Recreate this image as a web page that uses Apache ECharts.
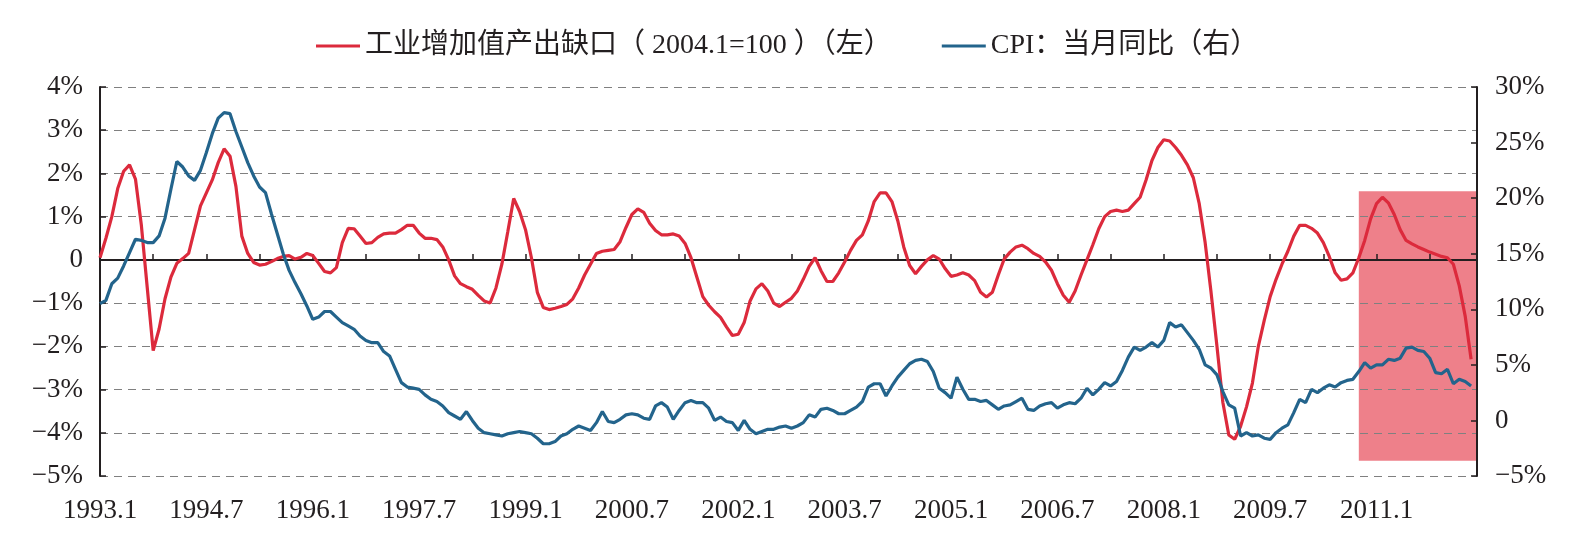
<!DOCTYPE html>
<html>
<head>
<meta charset="utf-8">
<script src="https://cdn.jsdelivr.net/npm/echarts@6/dist/echarts.min.js"></script>
<style>
  html, body { margin: 0; padding: 0; background: #fff; }
  #chart { width: 1586px; height: 548px; }
</style>
</head>
<body>
<div id="chart"></div>
<script>
// output gap, % (left axis), one array per year, Jan..Dec
const gap1993 = [0.05, 0.5, 1.0, 1.65, 2.05, 2.2, 1.87, 0.8, -0.65, -2.1, -1.6, -0.9];
const gap1994 = [-0.4, -0.08, 0.03, 0.15, 0.7, 1.25, 1.55, 1.85, 2.25, 2.57, 2.4, 1.7];
const gap1995 = [0.55, 0.15, -0.06, -0.12, -0.1, -0.04, 0.03, 0.08, 0.1, 0.02, 0.06, 0.15];
const gap1996 = [0.1, -0.08, -0.27, -0.3, -0.18, 0.4, 0.73, 0.72, 0.55, 0.38, 0.4, 0.52];
const gap1997 = [0.6, 0.62, 0.62, 0.7, 0.8, 0.8, 0.62, 0.5, 0.5, 0.47, 0.3, 0.0];
const gap1998 = [-0.37, -0.55, -0.62, -0.68, -0.82, -0.95, -1.0, -0.65, -0.1, 0.65, 1.42, 1.12];
const gap1999 = [0.7, 0.05, -0.75, -1.1, -1.15, -1.12, -1.08, -1.03, -0.9, -0.65, -0.35, -0.1];
const gap2000 = [0.15, 0.2, 0.22, 0.24, 0.42, 0.75, 1.05, 1.18, 1.1, 0.85, 0.68, 0.58];
const gap2001 = [0.58, 0.6, 0.55, 0.38, 0.05, -0.4, -0.85, -1.05, -1.2, -1.33, -1.55, -1.75];
const gap2002 = [-1.72, -1.45, -0.95, -0.67, -0.55, -0.72, -1.0, -1.08, -0.98, -0.89, -0.72, -0.45];
const gap2003 = [-0.15, 0.05, -0.25, -0.5, -0.5, -0.3, -0.05, 0.22, 0.45, 0.58, 0.9, 1.35];
const gap2004 = [1.55, 1.55, 1.35, 0.9, 0.3, -0.13, -0.32, -0.15, 0.0, 0.1, 0.02, -0.2];
const gap2005 = [-0.38, -0.35, -0.3, -0.35, -0.48, -0.75, -0.86, -0.75, -0.35, 0.02, 0.18, 0.3];
const gap2006 = [0.34, 0.26, 0.15, 0.08, -0.05, -0.24, -0.55, -0.82, -0.98, -0.72, -0.35, 0.0];
const gap2007 = [0.35, 0.72, 1.0, 1.12, 1.15, 1.12, 1.15, 1.3, 1.45, 1.85, 2.3, 2.6];
const gap2008 = [2.78, 2.75, 2.6, 2.42, 2.2, 1.9, 1.3, 0.4, -0.75, -2.0, -3.3, -4.05];
const gap2009 = [-4.15, -3.85, -3.4, -2.85, -2.0, -1.4, -0.85, -0.45, -0.1, 0.2, 0.55, 0.8];
const gap2010 = [0.8, 0.73, 0.62, 0.4, 0.08, -0.3, -0.47, -0.44, -0.3, 0.05, 0.45, 0.95];
const gap2011 = [1.3, 1.45, 1.32, 1.05, 0.7, 0.45, 0.37, 0.3, 0.24, 0.18, 0.13, 0.08];
const gap2012 = [0.05, -0.1, -0.6, -1.3, -2.3];

// CPI year on year, % (right axis)
const cpi1993 = [10.5, 10.8, 12.3, 12.8, 13.9, 15.1, 16.3, 16.2, 16.0, 16.0, 16.6, 18.2];
const cpi1994 = [20.8, 23.3, 22.8, 22.0, 21.6, 22.5, 24.1, 25.8, 27.2, 27.7, 27.6, 26.0];
const cpi1995 = [24.6, 23.2, 22.0, 21.0, 20.5, 18.6, 16.8, 15.0, 13.5, 12.4, 11.4, 10.3];
const cpi1996 = [9.1, 9.3, 9.8, 9.8, 9.3, 8.8, 8.5, 8.2, 7.6, 7.2, 7.0, 7.0];
const cpi1997 = [6.2, 5.8, 4.6, 3.4, 3.0, 2.9, 2.8, 2.3, 1.9, 1.7, 1.3, 0.7];
const cpi1998 = [0.4, 0.1, 0.8, 0.0, -0.7, -1.1, -1.2, -1.3, -1.4, -1.2, -1.1, -1.0];
const cpi1999 = [-1.1, -1.2, -1.6, -2.1, -2.1, -1.9, -1.4, -1.2, -0.8, -0.5, -0.7, -0.9];
const cpi2000 = [-0.2, 0.8, -0.1, -0.2, 0.1, 0.5, 0.6, 0.5, 0.2, 0.1, 1.3, 1.6];
const cpi2001 = [1.2, 0.1, 0.9, 1.6, 1.8, 1.6, 1.6, 1.1, 0.0, 0.3, -0.1, -0.2];
const cpi2002 = [-0.9, 0.0, -0.8, -1.2, -1.0, -0.8, -0.8, -0.6, -0.5, -0.7, -0.5, -0.2];
const cpi2003 = [0.5, 0.3, 1.0, 1.1, 0.9, 0.6, 0.6, 0.9, 1.2, 1.7, 3.0, 3.3];
const cpi2004 = [3.3, 2.2, 3.1, 3.9, 4.5, 5.1, 5.4, 5.5, 5.3, 4.4, 2.9, 2.5];
const cpi2005 = [2.0, 3.9, 2.8, 1.9, 1.9, 1.7, 1.8, 1.4, 1.0, 1.3, 1.4, 1.7];
const cpi2006 = [2.0, 1.0, 0.9, 1.3, 1.5, 1.6, 1.1, 1.4, 1.6, 1.5, 2.0, 2.9];
const cpi2007 = [2.3, 2.8, 3.4, 3.1, 3.5, 4.5, 5.7, 6.6, 6.3, 6.6, 7.0, 6.6];
const cpi2008 = [7.2, 8.8, 8.4, 8.6, 7.9, 7.2, 6.4, 5.0, 4.7, 4.1, 2.6, 1.4];
const cpi2009 = [1.1, -1.4, -1.1, -1.4, -1.3, -1.6, -1.7, -1.1, -0.7, -0.4, 0.7, 1.9];
const cpi2010 = [1.6, 2.8, 2.5, 2.9, 3.2, 3.0, 3.4, 3.6, 3.7, 4.4, 5.2, 4.7];
const cpi2011 = [5.0, 5.0, 5.5, 5.4, 5.6, 6.5, 6.6, 6.3, 6.2, 5.6, 4.3, 4.2];
const cpi2012 = [4.6, 3.3, 3.7, 3.5, 3.1];

// shaded window (left-axis units)
const shadeFrom = '2010.10';
const shadeTo = '2012.6';
const shadeTop = 1.59;
const shadeBottom = -4.65;

const gapName = '工业增加值产出缺口（ 2004.1=100 ）（左）';
const cpiName = 'CPI：当月同比（右）';

const months = [];
for (let y = 1993; y <= 2012; y++) {
    for (let m = 1; m <= 12; m++) {
        if (y === 2012 && m > 6) break;
        months.push(y + '.' + m);
    }
}

const gap = [].concat(gap1993, gap1994, gap1995, gap1996, gap1997, gap1998, gap1999,
    gap2000, gap2001, gap2002, gap2003, gap2004, gap2005, gap2006, gap2007, gap2008,
    gap2009, gap2010, gap2011, gap2012);
const cpi = [].concat(cpi1993, cpi1994, cpi1995, cpi1996, cpi1997, cpi1998, cpi1999,
    cpi2000, cpi2001, cpi2002, cpi2003, cpi2004, cpi2005, cpi2006, cpi2007, cpi2008,
    cpi2009, cpi2010, cpi2011, cpi2012);

const ink = '#231f20';
const font = "'Liberation Serif', 'Noto Sans CJK SC', serif";
const pct = v => v === 0 ? '0' : (v < 0 ? '\u2212' + (-v) : v) + '%';

const chart = echarts.init(document.getElementById('chart'), null, { renderer: 'canvas' });
chart.setOption({
    animation: false,
    backgroundColor: '#fff',
    textStyle: { fontFamily: font, color: ink },
    legend: {
        left: 311,
        top: 27,
        itemWidth: 44,
        itemHeight: 3,
        itemGap: 50,
        icon: 'rect',
        textStyle: { fontSize: 28, color: ink, fontFamily: font },
        data: [gapName, cpiName],
    },
    grid: { left: 100, right: 109, top: 87, bottom: 72 },
    xAxis: [
        {
            type: 'category',
            data: months,
            boundaryGap: false,
            z: 2,
            axisLine: { onZero: true, lineStyle: { color: ink, width: 2 } },
            axisTick: { inside: true, interval: 8, length: 6, lineStyle: { color: ink, width: 1.5 } },
            axisLabel: { show: false },
            splitLine: { show: false },
        },
        {
            type: 'category',
            data: months,
            boundaryGap: false,
            position: 'bottom',
            axisLine: { show: false, onZero: false },
            axisTick: { show: false },
            axisLabel: { interval: 17, margin: 21, fontSize: 27, color: ink, fontFamily: font },
            splitLine: { show: false },
        },
    ],
    yAxis: [
        {
            type: 'value',
            position: 'left',
            min: -5,
            max: 4,
            interval: 1,
            z: 2,
            axisLine: { show: true, lineStyle: { color: ink, width: 2 } },
            axisTick: { show: true, inside: true, length: 6, lineStyle: { color: ink, width: 1.5 } },
            axisLabel: { margin: 17, fontSize: 27, color: ink, fontFamily: font, formatter: pct },
            splitLine: { show: true, lineStyle: { color: '#808080', width: 1.2, type: [8, 6] } },
        },
        {
            type: 'value',
            position: 'right',
            min: -5,
            max: 30,
            interval: 5,
            z: 2,
            axisLine: { show: true, lineStyle: { color: ink, width: 2 } },
            axisTick: { show: true, inside: true, length: 6, lineStyle: { color: ink, width: 1.5 } },
            axisLabel: { margin: 18, fontSize: 27, color: ink, fontFamily: font, formatter: pct },
            splitLine: { show: false },
        },
    ],
    series: [
        {
            name: gapName,
            type: 'line',
            xAxisIndex: 0,
            yAxisIndex: 0,
            data: gap,
            symbol: 'none',
            z: 3,
            color: '#dc2a3c',
            lineStyle: { color: '#dc2a3c', width: 3.2 },
            markArea: {
                silent: true,
                z: 1,
                itemStyle: { color: '#ee808a' },
                data: [[
                    { xAxis: shadeFrom, yAxis: shadeTop },
                    { xAxis: shadeTo, yAxis: shadeBottom },
                ]],
            },
        },
        {
            name: cpiName,
            type: 'line',
            xAxisIndex: 0,
            yAxisIndex: 1,
            data: cpi,
            symbol: 'none',
            z: 3,
            color: '#23648c',
            lineStyle: { color: '#23648c', width: 3.2 },
        },
    ],
});
</script>
</body>
</html>
